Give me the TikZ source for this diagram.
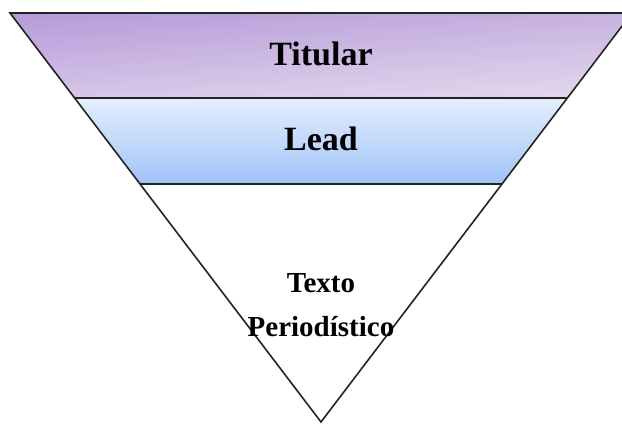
\documentclass[tikz,border=0pt]{standalone}
\usepackage{fontspec}
\setmainfont{Liberation Serif}
\usetikzlibrary{shadings}
\begin{document}
\begin{tikzpicture}[x=1pt,y=-1pt,
  outline/.style={draw=edgegray, line width=1.6pt, line join=miter},
  biglabel/.style={font=\fontsize{34}{40}\selectfont\bfseries, text=black, inner sep=0pt, anchor=base},
  smalllabel/.style={font=\fontsize{29}{34}\selectfont\bfseries, text=black, inner sep=0pt, anchor=base}]
\definecolor{edgegray}{RGB}{35,35,35}
\definecolor{titleul}{RGB}{180,154,216}
\definecolor{titleur}{RGB}{200,178,224}
\definecolor{titlell}{RGB}{214,196,232}
\definecolor{titlelr}{RGB}{228,218,238}
\definecolor{leadtop}{RGB}{228,238,253}
\definecolor{leadbot}{RGB}{160,196,248}
\useasboundingbox (0,0) rectangle (622,425);
\fill[white] (0,0) rectangle (622,425);
\begin{scope}
  \clip (0,0) rectangle (622,425);
  % corners of the inverted pyramid and its band boundaries
  \coordinate (tl) at (10,13);
  \coordinate (tr) at (632,13);
  \coordinate (ml) at (74.6,98);
  \coordinate (mr) at (567.4,98);
  \coordinate (ll) at (140,184);
  \coordinate (lr) at (502,184);
  \coordinate (apex) at (321,422);
  % shaded bands
  \shade[upper left=titleul, upper right=titleur, lower left=titlell, lower right=titlelr]
    (tl) -- (tr) -- (mr) -- (ml) -- cycle;
  \shade[top color=leadtop, bottom color=leadbot] (ml) -- (mr) -- (lr) -- (ll) -- cycle;
  % outlines
  \draw[outline] (tl) -- (tr) -- (apex) -- cycle;
  \draw[outline] (ml) -- (mr);
  \draw[outline] (ll) -- (lr);
\end{scope}
\node[biglabel] (titular) at (321,66) {Titular};
\node[biglabel] (lead) at (321,151) {Lead};
\node[smalllabel] (texto) at (321,293) {Texto};
\node[smalllabel] (periodistico) at (321,337) {Periodístico};
\end{tikzpicture}
\end{document}
